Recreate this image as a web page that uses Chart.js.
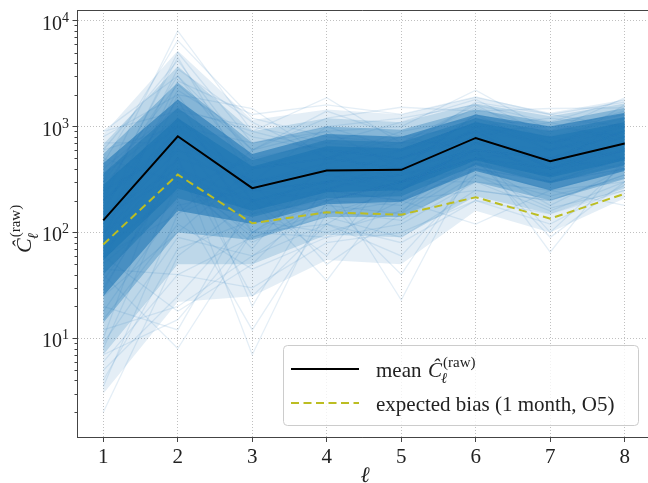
<!DOCTYPE html>
<html>
<head>
<meta charset="utf-8">
<script src="https://cdn.jsdelivr.net/npm/chart.js@4.4.0/dist/chart.umd.min.js"></script>
<style>
html, body { margin: 0; padding: 0; background: #fff; }
#wrap { width: 648px; height: 483px; }
</style>
</head>
<body>
<div id="wrap"><canvas id="myChart" width="648" height="483"></canvas></div>
<script>
/* multipoles */
var ells = [1, 2, 3, 4, 5, 6, 7, 8];
/* mean raw C_l and expected bias */
var meanCl = [130, 810, 262, 385, 390, 780, 471, 690];
var biasCl = [77, 352, 122, 155, 147, 215, 135, 232];
/* spread of the realisations, outermost to innermost */
var spreadHi = [
    [850, 5200, 1150, 1450, 1300, 1900, 1350, 1800],
    [680, 3700, 900, 1200, 1100, 1650, 1250, 1650],
    [550, 2600, 700, 1000, 930, 1450, 1100, 1500],
    [450, 1800, 550, 850, 800, 1300, 1000, 1350],
    [360, 1500, 480, 750, 710, 1200, 900, 1230],
    [280, 1200, 420, 650, 620, 1100, 800, 1100]
];
var spreadLo = [
    [3, 22, 25, 55, 50, 160, 100, 210],
    [7, 50, 50, 95, 90, 220, 150, 260],
    [14, 100, 85, 140, 140, 300, 200, 320],
    [25, 160, 120, 185, 195, 380, 250, 380],
    [40, 210, 140, 210, 220, 430, 290, 430],
    [55, 260, 160, 240, 250, 480, 330, 480]
];
var spreadAlpha = [0.12, 0.2, 0.35, 0.6, 0.5, 0.7];
/* single realisations that stand out */
var realisations = [
    [300, 8000, 900, 600, 500, 1200, 700, 900],
    [450, 6500, 1200, 800, 700, 1500, 900, 1300],
    [200, 5000, 700, 1000, 600, 900, 1000, 800],
    [600, 4200, 500, 700, 1100, 1800, 800, 1200],
    [150, 3500, 1100, 500, 400, 1300, 600, 1600],
    [900, 3000, 600, 1400, 800, 1000, 1200, 1000],
    [2, 60, 200, 300, 400, 600, 500, 700],
    [3.5, 150, 300, 250, 500, 900, 400, 600],
    [5, 25, 150, 400, 250, 700, 350, 500],
    [8, 300, 80, 200, 300, 500, 600, 900],
    [12, 20, 60, 180, 150, 400, 300, 450],
    [40, 8, 100, 200, 300, 500, 400, 600],
    [20, 12, 200, 150, 250, 800, 300, 500],
    [60, 18, 50, 250, 400, 600, 500, 400],
    [100, 500, 7, 200, 300, 500, 400, 700],
    [50, 200, 12, 150, 200, 400, 300, 500],
    [200, 900, 20, 300, 250, 700, 450, 600],
    [150, 400, 200, 35, 300, 600, 500, 800],
    [80, 1200, 300, 50, 150, 900, 400, 500],
    [120, 600, 250, 300, 23, 500, 350, 700],
    [300, 1000, 150, 200, 40, 450, 300, 400],
    [100, 300, 200, 250, 200, 120, 250, 400],
    [80, 500, 300, 400, 300, 600, 65, 500],
    [200, 800, 250, 300, 350, 500, 90, 300],
    [150, 700, 300, 350, 300, 400, 250, 180],
    [800, 2000, 1480, 500, 900, 1200, 1000, 1300],
    [400, 1500, 900, 1870, 700, 1600, 1100, 1800],
    [300, 2500, 600, 1200, 1520, 1400, 1480, 1500],
    [600, 1000, 700, 900, 1000, 2200, 900, 1870],
    [900, 1400, 1000, 700, 600, 1700, 1300, 1000],
    [100, 1000, 300, 400, 500, 800, 500, 900],
    [250, 600, 400, 500, 400, 700, 600, 800],
    [50, 2000, 200, 300, 350, 1000, 400, 700],
    [30, 400, 150, 250, 200, 500, 300, 400],
    [25, 100, 400, 600, 500, 900, 700, 1000],
    [10, 800, 100, 300, 600, 1100, 800, 600],
    [70, 250, 500, 350, 250, 600, 400, 1200],
    [15, 120, 45, 90, 120, 300, 160, 300],
    [6, 40, 90, 140, 90, 250, 200, 350],
    [500, 300, 100, 120, 80, 200, 150, 250],
    [35, 350, 90, 160, 130, 350, 220, 330],
    [18, 180, 250, 200, 180, 450, 350, 600],
    [250, 3000, 400, 500, 700, 700, 500, 900],
    [120, 2200, 800, 600, 300, 1000, 700, 500],
    [700, 700, 300, 1000, 1200, 1600, 700, 1100],
    [9, 90, 60, 120, 300, 300, 250, 300],
    [4, 70, 130, 100, 160, 450, 180, 400],
    [45, 40, 30, 80, 100, 200, 120, 280],
    [170, 1800, 100, 90, 200, 250, 200, 350],
    [350, 1200, 200, 60, 500, 800, 1100, 700],
    [60, 150, 600, 900, 400, 1300, 900, 1400],
    [220, 4500, 300, 450, 600, 1100, 600, 1000],
    [90, 2700, 1300, 1600, 1300, 1900, 1300, 1700],
    [28, 500, 25, 120, 60, 350, 170, 250],
    [140, 350, 70, 500, 800, 600, 100, 450],
    [7, 15, 100, 260, 350, 550, 450, 800]
];
var yTicks = [10, 100, 1000, 10000];
var yMinorTicks = [2, 3, 4, 5, 6, 7, 8, 9, 20, 30, 40, 50, 60, 70, 80, 90,
                   200, 300, 400, 500, 600, 700, 800, 900, 2000, 3000, 4000, 5000, 6000, 7000, 8000, 9000];

var serif = '"Liberation Serif", "DejaVu Serif", serif';
var blue = '31,119,180';

function pts(vals) {
    return ells.map(function(l, i) { return {x: l, y: vals[i]}; });
}

var datasets = [];
// first datasets are drawn last, so mean and bias go first
datasets.push({data: pts(meanCl), borderColor: '#000', borderWidth: 2, pointRadius: 0, fill: false});
datasets.push({data: pts(biasCl), borderColor: '#bcbd22', borderWidth: 2, borderDash: [8, 4.5], pointRadius: 0, fill: false});
realisations.forEach(function(r) {
    datasets.push({data: pts(r), borderColor: 'rgba(' + blue + ',0.12)', borderWidth: 1.3, pointRadius: 0, fill: false});
});
// bands: innermost first so the outer ones are painted underneath
for (var k = spreadHi.length - 1; k >= 0; k--) {
    datasets.push({data: pts(spreadHi[k]), borderWidth: 0, pointRadius: 0, fill: '+1',
                   backgroundColor: 'rgba(' + blue + ',' + spreadAlpha[k] + ')'});
    datasets.push({data: pts(spreadLo[k]), borderWidth: 0, pointRadius: 0, fill: false});
}

function drawCl(ctx, x, y, fs) {
    ctx.font = 'italic ' + fs + 'px ' + serif;
    ctx.fillText('Ĉ', x, y);
    var w = ctx.measureText('Ĉ').width;
    var fs2 = Math.round(fs * 0.7);
    ctx.font = 'italic ' + fs2 + 'px ' + serif;
    ctx.fillText('ℓ', x + w - 1, y + fs * 0.3);
    ctx.font = fs2 + 'px ' + serif;
    ctx.fillText('(raw)', x + w + 1, y - fs * 0.5);
}

var decor = {
    id: 'decor',
    afterDraw: function(chart) {
        var ctx = chart.ctx, a = chart.chartArea;
        var ys = chart.scales.y;
        ctx.save();
        // top spine
        ctx.strokeStyle = '#444';
        ctx.lineWidth = 1;
        ctx.beginPath();
        ctx.moveTo(a.left, a.top + 0.5);
        ctx.lineTo(a.right, a.top + 0.5);
        ctx.stroke();
        // minor ticks
        ctx.beginPath();
        yMinorTicks.forEach(function(v) {
            var py = Math.round(ys.getPixelForValue(v)) + 0.5;
            if (py < a.top || py > a.bottom) return;
            ctx.moveTo(a.left - 3, py);
            ctx.lineTo(a.left, py);
        });
        ctx.stroke();
        // y tick labels 10^n
        ctx.fillStyle = '#222';
        ctx.textBaseline = 'alphabetic';
        yTicks.forEach(function(v) {
            var py = ys.getPixelForValue(v);
            ctx.font = '20px ' + serif;
            ctx.textAlign = 'right';
            ctx.fillText('10', 62, py + 9);
            ctx.font = '14px ' + serif;
            ctx.textAlign = 'left';
            ctx.fillText(String(Math.round(Math.log10(v))), 62, py + 1);
        });
        // y axis title
        ctx.save();
        ctx.translate(31, 253);
        ctx.rotate(-Math.PI / 2);
        ctx.textAlign = 'left';
        drawCl(ctx, 0, 0, 22);
        ctx.restore();
        // x axis title
        ctx.textAlign = 'center';
        ctx.font = 'italic 22px ' + serif;
        ctx.fillText('ℓ', 365, 482);
        // legend
        ctx.fillStyle = 'rgba(255,255,255,0.8)';
        ctx.strokeStyle = '#cccccc';
        ctx.lineWidth = 1;
        ctx.beginPath();
        ctx.roundRect(283.5, 345.5, 355, 80, 4);
        ctx.fill();
        ctx.stroke();
        ctx.lineWidth = 2;
        ctx.strokeStyle = '#000';
        ctx.beginPath();
        ctx.moveTo(291, 369);
        ctx.lineTo(359, 369);
        ctx.stroke();
        ctx.strokeStyle = '#bcbd22';
        ctx.setLineDash([8, 4.5]);
        ctx.beginPath();
        ctx.moveTo(291, 403);
        ctx.lineTo(359, 403);
        ctx.stroke();
        ctx.setLineDash([]);
        ctx.fillStyle = '#222';
        ctx.textAlign = 'left';
        ctx.font = '21px ' + serif;
        ctx.fillText('mean', 376, 377);
        drawCl(ctx, 428, 377, 21);
        ctx.font = '21px ' + serif;
        ctx.fillText('expected bias (1 month, O5)', 376, 411);
        ctx.restore();
    }
};

var ctx = document.getElementById('myChart').getContext('2d');
var myChart = new Chart(ctx, {
    type: 'line',
    data: {datasets: datasets},
    options: {
        responsive: false,
        animation: false,
        devicePixelRatio: 1,
        layout: {padding: {top: 10, right: 0, left: 0, bottom: 0}},
        elements: {line: {tension: 0}},
        plugins: {legend: {display: false}, tooltip: {enabled: false}, filler: {propagate: false}},
        scales: {
            x: {
                type: 'linear',
                min: 0.654,
                max: 8.313,
                afterBuildTicks: function(scale) {
                    scale.ticks = ells.map(function(v) { return {value: v}; });
                },
                afterFit: function(scale) { scale.height = 46; },
                grid: {color: '#b0b0b0', lineWidth: 0.8, tickLength: 5, tickColor: '#444', tickWidth: 1, tickBorderDash: []},
                border: {display: true, color: '#444', width: 1, dash: [1, 2]},
                ticks: {color: '#222', font: {family: serif, size: 21}, padding: 3, maxRotation: 0}
            },
            y: {
                type: 'logarithmic',
                min: 1.17,
                max: 12600,
                afterBuildTicks: function(scale) {
                    scale.ticks = yTicks.map(function(v) { return {value: v, major: true}; });
                },
                afterFit: function(scale) { scale.width = 77.5; },
                grid: {color: '#b0b0b0', lineWidth: 0.8, tickLength: 5, tickColor: '#444', tickWidth: 1, tickBorderDash: []},
                border: {display: true, color: '#444', width: 1, dash: [1, 2]},
                ticks: {display: false}
            }
        }
    },
    plugins: [decor]
});
</script>
</body>
</html>
